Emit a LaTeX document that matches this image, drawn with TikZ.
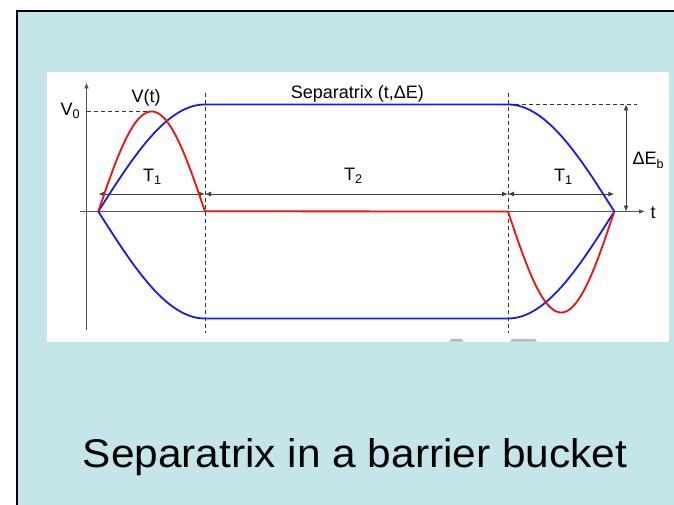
\documentclass[tikz,border=0pt]{standalone}
\usepackage{fontspec}
\setmainfont{Liberation Sans}
\usetikzlibrary{arrows.meta}
\definecolor{panel}{HTML}{C4E6E8}
\definecolor{axisgray}{HTML}{555555}
\definecolor{sepblue}{HTML}{1A1AF0}
\definecolor{vred}{HTML}{F01010}
\tikzset{
  axisline/.style={draw=axisgray,line width=1.3pt},
  guide/.style={draw=black!80,line width=0.8pt,dash pattern=on 4pt off 3pt},
  sep/.style={draw=sepblue,line width=1.8pt},
  volt/.style={draw=vred,line width=1.8pt},
  dim/.style={draw=black!75,line width=1pt,{Latex[length=6pt,width=5pt]}-{Latex[length=6pt,width=5pt]}},
  lbl/.style={font=\fontsize{18}{20}\selectfont,inner sep=0pt,text=black},
}
\begin{document}
\begin{tikzpicture}[x=1pt,y=-1pt]
\useasboundingbox (0,0) rectangle (674,505);
% panel
\fill[panel] (17,11) rectangle (676,507);
\draw[line width=2pt] (17,507) -- (17,11) -- (676,11);
\fill[white] (47,72) rectangle (669,341.7);
% grey marks at bottom of the white area
\fill[black!28] (449,341.7) -- (451.5,338.8) -- (461.5,338.8) -- (463.5,341.7) -- cycle;
\fill[black!28] (510,341.7) -- (512,338.8) -- (535,338.8) -- (537,341.7) -- cycle;
% key coordinates
\coordinate (O) at (98.3,211.5);
\coordinate (A) at (205,211.5);
\coordinate (B) at (508,211.5);
\coordinate (E) at (614.3,211.5);
\coordinate (ytop) at (86.5,82.5);
\coordinate (ybot) at (86.5,330);
\coordinate (tleft) at (80,211.5);
\coordinate (tright) at (645,211.5);
\coordinate (Atop) at (205,93);
\coordinate (Abot) at (205,333);
\coordinate (Btop) at (508,93);
\coordinate (Bbot) at (508,333);
\coordinate (v0a) at (86.5,111.7);
\coordinate (v0b) at (152,111.7);
\coordinate (eba) at (508,104.3);
\coordinate (ebb) at (637,104.3);
\coordinate (ebtop) at (626,104.3);
\coordinate (ebbot) at (626,211.5);
\coordinate (dO) at (98.3,194);
\coordinate (dA) at (205,194);
\coordinate (dB) at (508,194);
\coordinate (dE) at (614.3,194);
% guides
\draw[guide] (Atop) -- (Abot);
\draw[guide] (Btop) -- (Bbot);
\draw[guide] (v0a) -- (v0b);
\draw[guide] (eba) -- (ebb);
% axes
\draw[axisline,-{Latex[length=6pt,width=5pt]}] (ybot) -- (ytop);
\draw[axisline,-{Latex[length=6pt,width=5pt]}] (tleft) -- (tright);
% dimension arrows
\draw[dim] (dO) -- (dA);
\draw[dim] (dA) -- (dB);
\draw[dim] (dB) -- (dE);
\draw[dim] (ebtop) -- (ebbot);
% separatrix
\draw[sep,line join=round] plot[domain=0:1,samples=60,smooth] ({98.3+106.7*\x},{211.5-107*sin(90*\x)})
  -- (508,104.5)
  -- plot[domain=0:1,samples=60,smooth] ({508+106.3*\x},{211.5-107*cos(90*\x)})
  -- plot[domain=1:0,samples=60,smooth] ({508+106.3*\x},{211.5+107*cos(90*\x)})
  -- (205,318.5)
  -- plot[domain=1:0,samples=60,smooth] ({98.3+106.7*\x},{211.5+107*sin(90*\x)});
% voltage
\draw[volt,line join=round] plot[domain=0:1,samples=60,smooth] ({98.3+106.7*\x},{211.5-100*sin(180*\x)})
  -- (B)
  -- plot[domain=0:1,samples=60,smooth] ({508+106.3*\x},{211.5+101*sin(180*\x)});
% labels
\node[lbl,anchor=base] (septxt) at (357.4,98.3) {Separatrix (t,ΔE)};
\node[lbl,anchor=base] (vt) at (146.2,103) {V(t)};
\node[lbl,anchor=base west] (v0) at (60.5,115.5) {V\textsubscript{0}};
\node[lbl,anchor=base west] (t1a) at (143,181.5) {T\textsubscript{1}};
\node[lbl,anchor=base west] (t2) at (344,181) {T\textsubscript{2}};
\node[lbl,anchor=base west] (t1b) at (554,181.5) {T\textsubscript{1}};
\node[lbl,anchor=base west] (deb) at (632.5,165) {ΔE\textsubscript{b}};
\node[lbl,anchor=base] (tl) at (653,218) {t};
% title
\node[anchor=base,inner sep=0pt,font=\fontsize{40}{44}\selectfont,xscale=1.06] (title) at (355,467.5) {Separatrix in a barrier bucket};
\end{tikzpicture}
\end{document}
